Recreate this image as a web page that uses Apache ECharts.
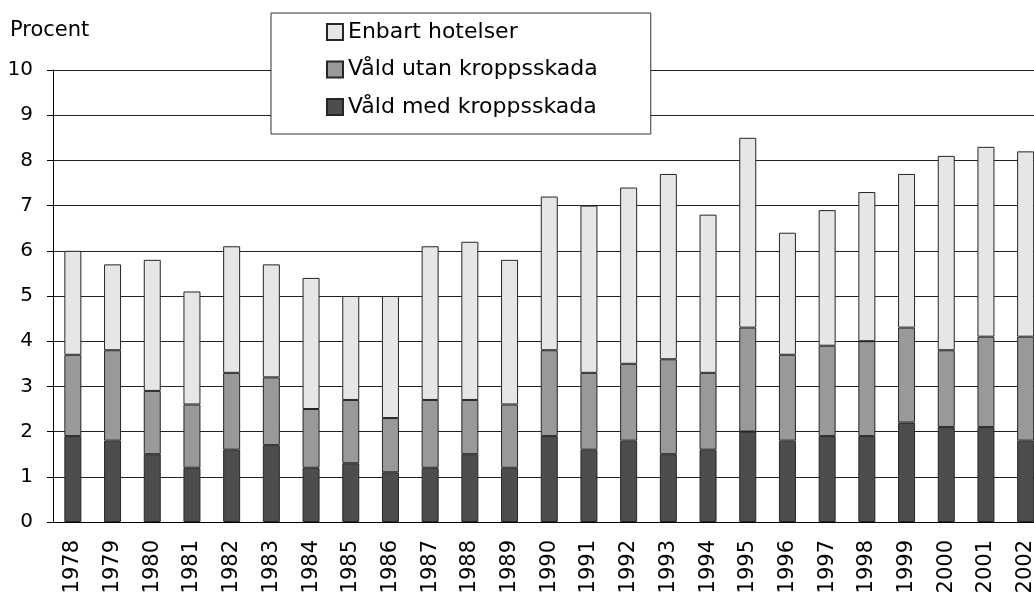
<!DOCTYPE html>
<html>
<head>
<meta charset="utf-8">
<script src="https://cdn.jsdelivr.net/npm/echarts@6/dist/echarts.min.js"></script>
<style>
  html, body { margin: 0; padding: 0; background: #fff; }
  #chart { width: 1034px; height: 594px; }
</style>
</head>
<body>
<div id="chart"></div>
<script>
// år
const years = ['1978','1979','1980','1981','1982','1983','1984','1985','1986','1987','1988','1989',
  '1990','1991','1992','1993','1994','1995','1996','1997','1998','1999','2000','2001','2002'];
// procent per kategori (avläst)
const medSkada   = [1.9,1.8,1.5,1.2,1.6,1.7,1.2,1.3,1.1,1.2,1.5,1.2,1.9,1.6,1.8,1.5,1.6,2.0,1.8,1.9,1.9,2.2,2.1,2.1,1.8];
const utanSkada  = [1.8,2.0,1.4,1.4,1.7,1.5,1.3,1.4,1.2,1.5,1.2,1.4,1.9,1.7,1.7,2.1,1.7,2.3,1.9,2.0,2.1,2.1,1.7,2.0,2.3];
const hotelser   = [2.3,1.9,2.9,2.5,2.8,2.5,2.9,2.3,2.7,3.4,3.5,3.2,3.4,3.7,3.9,4.1,3.5,4.2,2.7,3.0,3.3,3.4,4.3,4.2,4.1];
const yTicks = [0,1,2,3,4,5,6,7,8,9,10];

const font = 'DejaVu Sans';
const chart = echarts.init(document.getElementById('chart'));

function bar(name, data, color) {
    return {
        name: name, type: 'bar', stack: 'tot', data: data, barWidth: 17,
        itemStyle: {color: color, borderColor: '#262626', borderWidth: 1},
        emphasis: {disabled: true}
    };
}

chart.setOption({
    animation: false,
    textStyle: {fontFamily: font},
    // plottet fortsätter utanför bildens högra kant
    grid: {left: 53, top: 70, bottom: 72, width: 992.5, outerBoundsMode: 'none', containLabel: false},
    graphic: [{
        type: 'text', left: 10, top: 20,
        style: {text: 'Procent', fontSize: 21, fontFamily: font, fill: '#000'}
    }],
    legend: {
        data: ['Enbart hotelser', 'Våld utan kroppsskada', 'Våld med kroppsskada'],
        orient: 'vertical', left: 271, top: 13,
        padding: [8, 53, 16, 55],
        itemWidth: 16, itemHeight: 16, itemGap: 15.5,
        icon: 'rect',
        backgroundColor: '#fff', borderColor: '#333', borderWidth: 1,
        textStyle: {fontSize: 22, fontFamily: font, color: '#000', lineHeight: 22},
        selectedMode: false, z: 10
    },
    xAxis: {
        type: 'category', data: years,
        axisLine: {lineStyle: {color: '#000', width: 1}},
        axisTick: {show: false},
        axisLabel: {rotate: 90, margin: 18, fontSize: 21, color: '#000', fontFamily: font, interval: 0}
    },
    yAxis: {
        type: 'value', min: yTicks[0], max: yTicks[yTicks.length - 1], interval: 1,
        axisLine: {show: true, lineStyle: {color: '#000', width: 1}},
        axisTick: {show: true, length: 6, lineStyle: {color: '#000'}},
        axisLabel: {margin: 20, fontSize: 20, color: '#000', fontFamily: font},
        splitLine: {lineStyle: {color: '#222', width: 1}}
    },
    series: [
        bar('Våld med kroppsskada', medSkada, '#4d4d4d'),
        bar('Våld utan kroppsskada', utanSkada, '#999999'),
        bar('Enbart hotelser', hotelser, '#e6e6e6')
    ]
});
</script>
</body>
</html>
